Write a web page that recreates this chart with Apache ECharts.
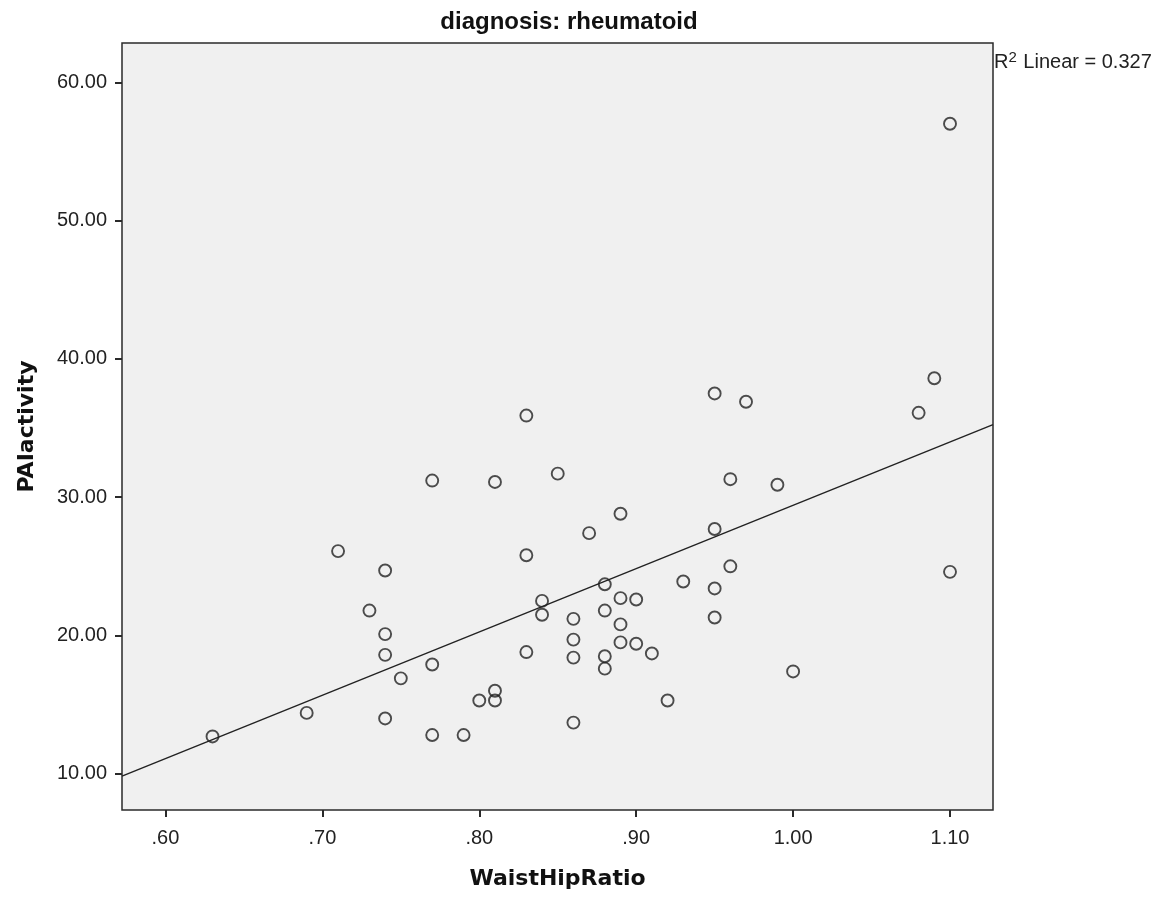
<!DOCTYPE html>
<html>
<head>
<meta charset="utf-8">
<script src="https://cdn.jsdelivr.net/npm/echarts@6/dist/echarts.min.js"></script>
<style>html,body{margin:0;padding:0;background:#fff;}#chart{width:1172px;height:900px;}</style>
</head>
<body>
<div id="chart"></div>
<script>
const waistHipRatio = [0.63,0.69,0.71,0.73,0.74,0.74,0.74,0.74,0.75,0.77,0.77,0.77,0.79,0.80,0.81,0.81,0.81,0.83,0.83,0.83,0.84,0.84,0.85,0.86,0.86,0.86,0.86,0.87,0.88,0.88,0.88,0.88,0.89,0.89,0.89,0.89,0.90,0.90,0.91,0.92,0.93,0.95,0.95,0.95,0.95,0.96,0.96,0.97,0.99,1.00,1.08,1.09,1.10,1.10];
const paActivity = [12.7,14.4,26.1,21.8,24.7,20.1,18.6,14.0,16.9,31.2,17.9,12.8,12.8,15.3,31.1,16.0,15.3,35.9,25.8,18.8,22.5,21.5,31.7,21.2,19.7,18.4,13.7,27.4,23.7,21.8,18.5,17.6,28.8,22.7,20.8,19.5,22.6,19.4,18.7,15.3,23.9,37.5,27.7,23.4,21.3,31.3,25.0,36.9,30.9,17.4,36.1,38.6,57.0,24.6];
const xTicks = [0.60,0.70,0.80,0.90,1.00,1.10];
const yTicks = [10,20,30,40,50,60];
const xRange = [0.5723, 1.1274];
const yRange = [7.38, 62.84];
const titleText = 'diagnosis: rheumatoid';
const xName = 'WaistHipRatio';
const yName = 'PAIactivity';
const r2Text = '0.327';

// least squares fit line
const n = waistHipRatio.length;
let sx=0, sy=0, sxx=0, sxy=0;
for (let i=0;i<n;i++){ sx+=waistHipRatio[i]; sy+=paActivity[i]; sxx+=waistHipRatio[i]*waistHipRatio[i]; sxy+=waistHipRatio[i]*paActivity[i]; }
const slope = (n*sxy - sx*sy)/(n*sxx - sx*sx);
const intercept = (sy - slope*sx)/n;
const fitLine = xRange.map(x => [x, intercept + slope*x]);
const points = waistHipRatio.map((x,i)=>[x, paActivity[i]]);

const chart = echarts.init(document.getElementById('chart'));
const labelFont = {fontFamily:'Liberation Sans, Arial, sans-serif', fontSize:20, color:'#222'};
chart.setOption({
  animation:false,
  backgroundColor:'#fff',
  grid:{left:122, top:43, right:179, bottom:90, show:true, backgroundColor:'#f0f0f0', borderColor:'#2a2a2a', borderWidth:1.5},
  xAxis:{
    type:'value', min:xRange[0], max:xRange[1],
    name:xName, nameLocation:'middle', nameGap:58,
    nameTextStyle:{fontFamily:'DejaVu Sans', fontWeight:'bold', fontSize:22, color:'#111'},
    axisLine:{show:false}, splitLine:{show:false},
    axisTick:{show:true, customValues:xTicks, length:7, lineStyle:{color:'#2a2a2a', width:2}},
    axisLabel:Object.assign({customValues:xTicks, margin:18, formatter:v=>v.toFixed(2).replace(/^0/,'')}, labelFont)
  },
  yAxis:{
    type:'value', min:yRange[0], max:yRange[1],
    name:yName, nameLocation:'middle', nameGap:84,
    nameTextStyle:{fontFamily:'DejaVu Sans', fontWeight:'bold', fontSize:22, color:'#111'},
    axisLine:{show:false}, splitLine:{show:false},
    axisTick:{show:true, customValues:yTicks, length:7, lineStyle:{color:'#2a2a2a', width:2}},
    axisLabel:Object.assign({customValues:yTicks, margin:15, formatter:v=>v.toFixed(2)}, labelFont)
  },
  graphic:[
    {type:'text', x:569, y:22, style:{text:titleText, align:'center', verticalAlign:'middle', font:'bold 24px "Liberation Sans", Arial, sans-serif', fill:'#111'}},
    {type:'text', x:994, y:62, style:{rich:{sup:{fontSize:15, verticalAlign:'top', padding:[0,1,8,0], fontFamily:'Liberation Sans', fill:'#222'}, n:{fontSize:20, fontFamily:'Liberation Sans', fill:'#222'}}, text:'{n|R}{sup|2}{n| Linear = '+r2Text+'}', verticalAlign:'middle', fill:'#222'}}
  ],
  series:[
    {type:'line', data:fitLine, symbol:'none', lineStyle:{color:'#222', width:1.4}, z:2, silent:true},
    {type:'scatter', data:points, symbol:'circle', symbolSize:12, itemStyle:{color:'rgba(0,0,0,0)', borderColor:'#222', borderWidth:1.9}, z:3}
  ]
});
</script>
</body>
</html>
